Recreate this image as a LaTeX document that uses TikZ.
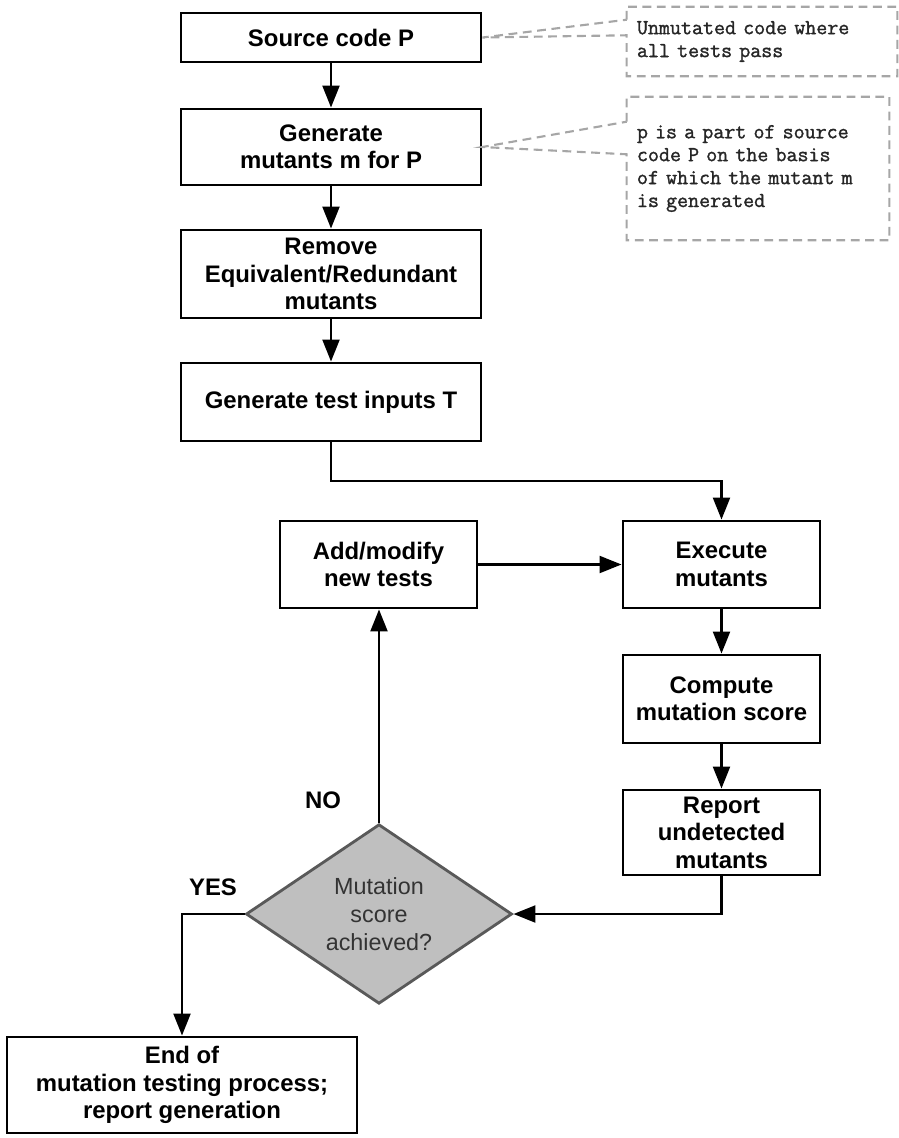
\documentclass[tikz,border=0pt]{standalone}
\usepackage{fontspec}
\setmainfont{Liberation Sans}
\newfontfamily\notefont{Latin Modern Mono}[FakeBold=1.4]
\usepackage{xcolor}
\usepackage{tikz}
\usetikzlibrary{shapes.geometric,arrows.meta,positioning}
\definecolor{notegray}{HTML}{A6A6A6}
\definecolor{decfill}{HTML}{BFBFBF}
\definecolor{decline}{HTML}{595959}
\definecolor{dectext}{HTML}{333333}

\tikzset{
	box/.style={draw,line width=2pt,align=center,inner sep=0pt,
		font=\fontsize{17}{19.5}\selectfont\bfseries},
	decision/.style={diamond,draw=decline,fill=decfill,line width=2pt,
		align=center,inner sep=0pt,text=dectext,
		font=\fontsize{16.6}{19.9}\selectfont},
	note/.style={align=left,inner xsep=0.25cm,inner ysep=0pt,text=black!85,
		font=\notefont\fontsize{15.2}{16.3}\selectfont},
	callout/.style={draw=notegray,line width=1.5pt,dash pattern=on 0.22cm off 0.14cm},
	lbl/.style={font=\fontsize{17}{19.5}\selectfont\bfseries},
	flow/.style={->,line width=2pt}
}

\begin{document}
\begin{tikzpicture}[x=0.025cm,y=-0.025cm,>={Triangle[length=0.55cm,width=0.42cm]}]
		\useasboundingbox (0,0) rectangle (899,1138);

		% main column
		\node[box,minimum width=7.5cm,minimum height=1.225cm] (src) at (331,37.5) {Source code P};
		\node[box,minimum width=7.5cm,minimum height=1.9cm] (gen) at (331,147) {Generate\\mutants m for P};
		\node[box,minimum width=7.5cm,minimum height=2.2cm] (rem) at (331,274) {Remove\\Equivalent/Redundant\\mutants};
		\node[box,minimum width=7.5cm,minimum height=1.95cm] (inp) at (331,402) {Generate test inputs T};

		% loop
		\node[box,minimum width=4.925cm,minimum height=2.175cm] (add) at (378.5,564.5) {Add/modify\\new tests};
		\node[box,minimum width=4.925cm,minimum height=2.175cm] (exe) at (721.5,564.5) {Execute\\mutants};
		\node[box,minimum width=4.925cm,minimum height=2.2cm] (cmp) at (721.5,699) {Compute\\mutation score};
		\node[box,minimum width=4.925cm,minimum height=2.125cm] (rep) at (721.5,832.5) {Report\\undetected\\mutants};
		\node[decision,minimum width=6.65cm,minimum height=3.75cm] (dec) at (379,914) {Mutation\\score\\achieved?};
		\node[box,minimum width=8.75cm,minimum height=2.4cm] (end) at (182,1085) {End of\\mutation testing process;\\report generation};

		\node[lbl] (no) at (323,800) {NO};
		\node[lbl] (yes) at (213,887) {YES};

		% notes
		\node[note,text width=6.25cm,minimum height=1.725cm] (n1) at (762,41.5) {Unmutated code where\\all tests pass};
		\node[note,text width=6.05cm,minimum height=3.575cm] (n2) at (758,168.5) {p is a part of source\\code P on the basis\\of which the mutant m\\is generated};

		\coordinate (jn) at (331,481);

		\draw[flow] (src) -- (gen);
		\draw[flow] (gen) -- (rem);
		\draw[flow] (rem) -- (inp);
		\draw[flow] (inp.south) -- (jn) -| (exe.north);
		\draw[flow] (add) -- (exe);
		\draw[flow] (exe) -- (cmp);
		\draw[flow] (cmp) -- (rep);
		\draw[flow] (rep.south) |- (dec.east);
		\draw[flow] (dec.north) -- (add.south -| dec.north);
		\draw[flow] (dec.west) -| (end.north);

		\draw[callout] ([yshift=-0.325cm]n1.north west) -- (n1.north west) -- (n1.north east)
			-- (n1.south east) -- (n1.south west) -- ([yshift=1.025cm]n1.south west) -- (src.east) -- cycle;
		\draw[callout] ([yshift=-0.625cm]n2.north west) -- (n2.north west) -- (n2.north east)
			-- (n2.south east) -- (n2.south west) -- ([yshift=2.15cm]n2.south west) -- (gen.east) -- cycle;
\end{tikzpicture}
\end{document}
